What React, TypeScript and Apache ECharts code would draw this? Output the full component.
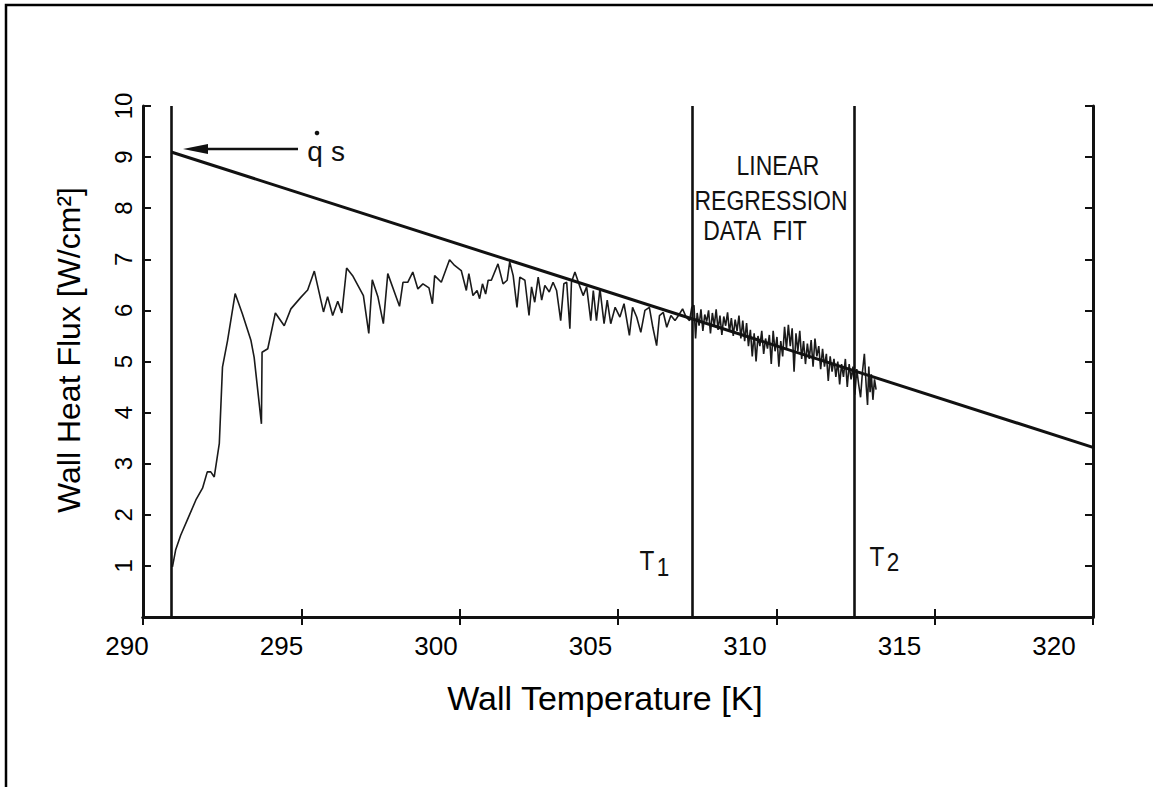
import React, { useEffect, useRef } from "react";
import * as echarts from "echarts";

// x tick labels (overlay axis) and y tick labels
const xTickLabels = [290, 295, 300, 305, 310, 315, 320];
const yTickLabels = [0, 1, 2, 3, 4, 5, 6, 7, 8, 9, 10];

// measured wall temperature [K]
const tempK = [
  290.93, 291.03, 291.19, 291.4, 291.67, 291.88, 292.03, 292.14, 292.25, 292.41,
  292.51, 292.67, 292.91, 293.14, 293.41, 293.51, 293.74, 293.76, 293.94, 294.18,
  294.46, 294.67, 294.99, 295.2, 295.41, 295.7, 295.83, 295.99, 296.15, 296.28,
  296.43, 296.62, 296.96, 297.13, 297.24, 297.42, 297.59, 297.73, 298.1, 298.21,
  298.36, 298.52, 298.68, 298.84, 299.03, 299.14, 299.21, 299.42, 299.68, 299.84,
  300.05, 300.21, 300.29, 300.42, 300.55, 300.63, 300.72, 300.82, 300.9, 301.0,
  301.21, 301.37, 301.5, 301.58, 301.69, 301.81, 301.9, 302.06, 302.19, 302.27,
  302.37, 302.48, 302.59, 302.69, 302.83, 302.95, 303.06, 303.19, 303.29, 303.38,
  303.48, 303.53, 303.64, 303.8, 303.9, 304.01, 304.14, 304.22, 304.32, 304.43,
  304.56, 304.66, 304.77, 304.91, 305.06, 305.19, 305.36, 305.46, 305.59, 305.72,
  305.85, 305.99, 306.1, 306.22, 306.31, 306.43, 306.54, 306.67, 306.8, 306.91,
  307.04, 307.15, 307.26, 307.33, 307.4, 307.45, 307.5, 307.56, 307.62, 307.68,
  307.74, 307.8, 307.86, 307.92, 307.98, 308.04, 308.1, 308.16, 308.22, 308.28,
  308.34, 308.4, 308.46, 308.52, 308.58, 308.64, 308.7, 308.76, 308.82, 308.88,
  308.94, 309.0, 309.06, 309.12, 309.18, 309.24, 309.3, 309.36, 309.42, 309.48,
  309.54, 309.6, 309.66, 309.72, 309.78, 309.84, 309.9, 309.96, 310.02, 310.08,
  310.14, 310.2, 310.26, 310.32, 310.38, 310.44, 310.5, 310.56, 310.62, 310.68,
  310.74, 310.8, 310.86, 310.92, 310.98, 311.04, 311.1, 311.16, 311.22, 311.28,
  311.34, 311.4, 311.46, 311.52, 311.58, 311.64, 311.7, 311.76, 311.82, 311.88,
  311.94, 312.0, 312.06, 312.12, 312.18, 312.24, 312.3, 312.36, 312.42, 312.48,
  312.54, 312.6, 312.66, 312.72, 312.78, 312.84, 312.88, 312.92, 312.96, 313.0,
  313.05, 313.1, 313.15,
];

// measured wall heat flux [W/cm2]
const fluxW = [
  0.98, 1.31, 1.6, 1.9, 2.29, 2.52, 2.84, 2.84, 2.74, 3.4,
  4.89, 5.41, 6.33, 5.93, 5.41, 5.08, 3.78, 5.18, 5.25, 5.95,
  5.7, 6.03, 6.26, 6.4, 6.77, 5.97, 6.27, 5.9, 6.18, 5.95,
  6.83, 6.68, 6.29, 5.55, 6.6, 6.26, 5.74, 6.72, 6.08, 6.55,
  6.55, 6.75, 6.42, 6.52, 6.44, 6.13, 6.68, 6.55, 6.99, 6.88,
  6.78, 6.39, 6.72, 6.29, 6.39, 6.23, 6.52, 6.32, 6.59, 6.59,
  6.91, 6.52, 6.59, 6.95, 6.68, 6.06, 6.65, 6.59, 5.9, 6.46,
  6.16, 6.65, 6.2, 6.49, 6.36, 6.55, 6.39, 5.8, 6.52, 6.55,
  5.64, 6.55, 6.75, 6.46, 6.29, 6.46, 5.8, 6.39, 5.8, 6.42,
  5.74, 6.2, 5.74, 6.06, 5.87, 6.13, 5.51, 6.06, 5.87, 5.57,
  6.0, 6.06, 5.67, 5.31, 5.9, 5.96, 5.67, 5.9, 5.8, 5.9,
  6.03, 5.87, 5.8, 6.06, 6.1, 5.45, 5.95, 5.7, 6.02, 5.6,
  5.92, 5.78, 6.0, 5.55, 5.95, 5.7, 6.02, 5.62, 5.9, 5.52,
  5.88, 5.7, 5.96, 5.58, 5.85, 5.5, 5.82, 5.6, 5.9, 5.45,
  5.8, 5.4, 5.75, 5.3, 5.62, 5.1, 5.55, 5.0, 5.5, 5.3,
  5.6, 5.15, 5.45, 5.25, 5.52, 4.95, 5.6, 5.2, 5.48, 4.9,
  5.4, 5.1, 5.68, 5.25, 5.72, 5.3, 5.65, 4.8, 5.55, 5.2,
  5.6, 5.05, 5.4, 4.95, 5.35, 5.05, 5.42, 4.9, 5.45, 5.1,
  5.3, 4.85, 5.25, 4.9, 5.15, 4.62, 5.1, 4.8, 5.05, 4.7,
  5.0, 4.55, 4.95, 4.7, 5.05, 4.5, 4.95, 4.65, 4.9, 4.35,
  4.85, 4.55, 4.3, 4.8, 5.15, 4.5, 4.15, 4.9, 4.4, 4.75,
  4.25, 4.65, 4.45,
];

// linear regression fit end points
const fitTemp = [290.89, 320];
const fitFlux = [9.1, 3.32];

// vertical marker lines: start, T1, T2
const markerTemps = [290.89, 307.34, 312.47];

const FONT = "'Liberation Sans', Arial, Helvetica, sans-serif";
const INK = "#111";

export default function App() {
  const ref = useRef<HTMLDivElement>(null);

  useEffect(() => {
    if (!ref.current) return;
    const chart = echarts.init(ref.current, null, { renderer: "svg" });

    const measured = tempK.map((t, i) => [t, fluxW[i]]);
    const fit = fitTemp.map((t, i) => [t, fitFlux[i]]);

    const frameAxis = {
      type: "value",
      min: 290,
      max: 320,
      interval: 5,
      axisLine: { show: true, lineStyle: { color: INK, width: 3 } },
      axisTick: { show: true, inside: true, length: 8, lineStyle: { color: INK, width: 2 } },
      axisLabel: { show: false },
      splitLine: { show: false },
    };
    const frameYAxis = {
      type: "value",
      min: 0,
      max: 10,
      interval: 1,
      axisLine: { show: true, lineStyle: { color: INK, width: 3 } },
      axisTick: { show: true, inside: true, length: 8, lineStyle: { color: INK, width: 2 } },
      axisLabel: { show: false },
      splitLine: { show: false },
    };

    chart.setOption({
      animation: false,
      backgroundColor: "#ffffff",
      textStyle: { fontFamily: FONT },
      grid: [
        { left: 143, top: 106, width: 950, height: 511, outerBoundsMode: "none", containLabel: false },
        { left: 127, top: 106, width: 927, height: 511, outerBoundsMode: "none", containLabel: false },
      ],
      xAxis: [
        { ...frameAxis, gridIndex: 0, position: "bottom" },
        { ...frameAxis, gridIndex: 0, position: "top" },
        {
          type: "value",
          gridIndex: 1,
          position: "bottom",
          min: xTickLabels[0],
          max: xTickLabels[xTickLabels.length - 1],
          interval: 5,
          axisLine: { show: false },
          axisTick: { show: false },
          splitLine: { show: false },
          axisLabel: { show: true, fontSize: 26, color: "#000", margin: 16, fontFamily: FONT },
          name: "Wall Temperature [K]",
          nameLocation: "middle",
          nameGap: 64,
          nameTextStyle: { fontSize: 34, color: "#000", fontFamily: FONT, padding: [0, 0, 0, 29] },
        },
      ],
      yAxis: [
        {
          ...frameYAxis,
          gridIndex: 0,
          position: "left",
          min: yTickLabels[0],
          max: yTickLabels[yTickLabels.length - 1],
          axisLabel: {
            show: true,
            rotate: 90,
            fontSize: 24,
            color: "#000",
            margin: 8,
            showMinLabel: false,
            fontFamily: FONT,
          },
          name: "Wall Heat Flux [W/cm²]",
          nameLocation: "middle",
          nameGap: 58,
          nameTextStyle: { fontSize: 32, color: "#000", fontFamily: FONT, padding: [0, 0, 0, 23] },
        },
        { ...frameYAxis, gridIndex: 0, position: "right" },
        { type: "value", gridIndex: 1, min: 0, max: 10, show: false },
      ],
      series: [
        {
          name: "Measured wall heat flux",
          type: "line",
          xAxisIndex: 0,
          yAxisIndex: 0,
          data: measured,
          showSymbol: false,
          symbol: "none",
          lineStyle: { color: "#1a1a1a", width: 1.6 },
          markLine: {
            silent: true,
            symbol: ["none", "none"],
            label: { show: false },
            lineStyle: { color: INK, width: 2.6, type: "solid" },
            data: markerTemps.map((t) => ({ xAxis: t })),
          },
          z: 3,
        },
        {
          name: "Linear regression data fit",
          type: "line",
          xAxisIndex: 0,
          yAxisIndex: 0,
          data: fit,
          showSymbol: false,
          symbol: "none",
          lineStyle: { color: INK, width: 3 },
          z: 4,
        },
      ],
      graphic: [
        {
          type: "rect",
          shape: { x: 6, y: 5, width: 1300, height: 1000 },
          style: { fill: "none", stroke: "#000", lineWidth: 2.5 },
          silent: true,
          z: 0,
        },
        {
          type: "line",
          shape: { x1: 298, y1: 149, x2: 200, y2: 149 },
          style: { stroke: INK, lineWidth: 2.5 },
          z: 10,
        },
        {
          type: "polygon",
          shape: { points: [[183, 149], [208, 144], [208, 154]] },
          style: { fill: INK },
          z: 10,
        },
        { type: "text", x: 315, y: 151, style: { text: "q", fontSize: 28, fontFamily: FONT, fill: INK, align: "center", verticalAlign: "middle" }, z: 10 },
        { type: "text", x: 338, y: 151, style: { text: "s", fontSize: 28, fontFamily: FONT, fill: INK, align: "center", verticalAlign: "middle" }, z: 10 },
        { type: "circle", shape: { cx: 317, cy: 133, r: 2.3 }, style: { fill: INK }, z: 10 },
        { type: "text", x: 778, y: 165, scaleX: 0.85, style: { text: "LINEAR", fontSize: 27, fontFamily: FONT, fill: INK, align: "center", verticalAlign: "middle" }, z: 10 },
        { type: "text", x: 771, y: 200, scaleX: 0.85, style: { text: "REGRESSION", fontSize: 27, fontFamily: FONT, fill: INK, align: "center", verticalAlign: "middle" }, z: 10 },
        { type: "text", x: 755, y: 230, scaleX: 0.85, style: { text: "DATA  FIT", fontSize: 27, fontFamily: FONT, fill: INK, align: "center", verticalAlign: "middle" }, z: 10 },
        { type: "text", x: 647, y: 561, scaleX: 0.9, style: { text: "T", fontSize: 27, fontFamily: FONT, fill: INK, align: "center", verticalAlign: "middle" }, z: 10 },
        { type: "text", x: 663, y: 567, scaleX: 0.9, style: { text: "1", fontSize: 25, fontFamily: FONT, fill: INK, align: "center", verticalAlign: "middle" }, z: 10 },
        { type: "text", x: 877, y: 557, scaleX: 0.9, style: { text: "T", fontSize: 27, fontFamily: FONT, fill: INK, align: "center", verticalAlign: "middle" }, z: 10 },
        { type: "text", x: 893, y: 562, scaleX: 0.9, style: { text: "2", fontSize: 25, fontFamily: FONT, fill: INK, align: "center", verticalAlign: "middle" }, z: 10 },
      ],
    });

    return () => chart.dispose();
  }, []);

  return (
    <div
      ref={ref}
      style={{ position: "fixed", left: 0, top: 0, width: 1153, height: 787, background: "#fff" }}
    />
  );
}
